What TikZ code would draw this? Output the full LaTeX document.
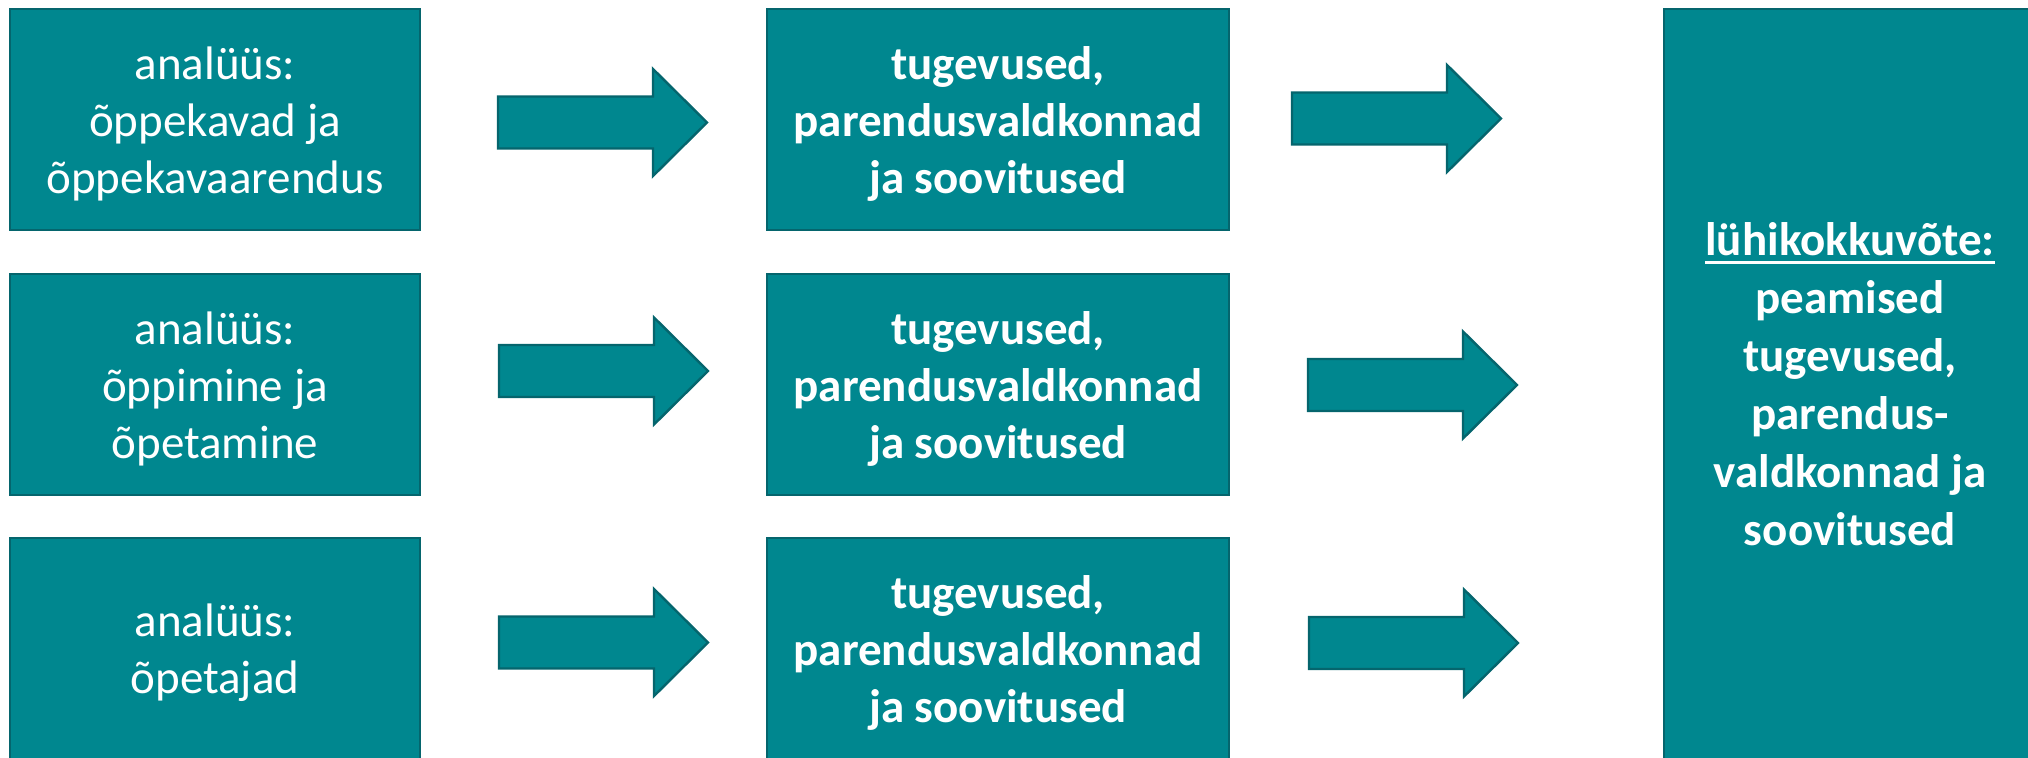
\documentclass[tikz,border=0pt]{standalone}
\usepackage{fontspec}
\setmainfont{Carlito}
\definecolor{tealfill}{HTML}{00878F}
\definecolor{tealline}{HTML}{05656D}
\newcommand\ulx[1]{\setbox0\hbox{#1}\rlap{\rule[-4.25pt]{\wd0}{1.5pt}}\box0}
\newcommand\topstrut{\rule{0pt}{20.5pt}}
\newcommand\blkarr[2]{\draw[blkarrow] (#1,#2-26) -- ++(155,0) -- ++(0,-27.5) -- ++(54,53.5) -- ++(-54,53.5) -- ++(0,-27.5) -- ++(-155,0) -- cycle;}
\begin{document}
\begin{tikzpicture}[x=0.5pt,y=-0.5pt,
  box/.style={draw=tealline, fill=tealfill, line width=1pt, inner sep=0pt,
    text=white, align=center, font=\fontsize{23.5pt}{28.5pt}\selectfont},
  leftbox/.style={box, minimum width=205pt, minimum height=110.5pt},
  midbox/.style={box, minimum width=231pt, minimum height=110.5pt,
    font=\fontsize{23.5pt}{28.5pt}\selectfont\bfseries},
  blkarrow/.style={draw=tealline, fill=tealfill, line width=1.2pt, line join=miter}]
\useasboundingbox (0,0) rectangle (2028,758);
% left column
\node[leftbox] (a1) at (215,119.5) {\topstrut analüüs:\\õppekavad ja\\õppekavaarendus};
\node[leftbox] (a2) at (215,384.5) {\topstrut analüüs:\\õppimine ja\\õpetamine};
\node[leftbox] (a3) at (215,648.5) {\topstrut analüüs:\\õpetajad};
% middle column
\node[midbox] (b1) at (998,119.5) {\topstrut tugevused,\\parendusvaldkonnad\\ja soovitused};
\node[midbox] (b2) at (998,384.5) {\topstrut tugevused,\\parendusvaldkonnad\\ja soovitused};
\node[midbox] (b3) at (998,648.5) {\topstrut tugevused,\\parendusvaldkonnad\\ja soovitused};
% right box
\node[box, minimum width=186pt, minimum height=375pt,
  font=\fontsize{23.5pt}{29pt}\selectfont\bfseries] (c) at (1850,384)
  {\ulx{lühikokkuvõte:}\\peamised\\tugevused,\\parendus-\\valdkonnad ja\\soovitused};
% block arrows
\blkarr{498}{122.5}
\blkarr{1292}{118.5}
\blkarr{499}{371}
\blkarr{1308}{385}
\blkarr{499}{642.5}
\blkarr{1309}{643}
\end{tikzpicture}
\end{document}
